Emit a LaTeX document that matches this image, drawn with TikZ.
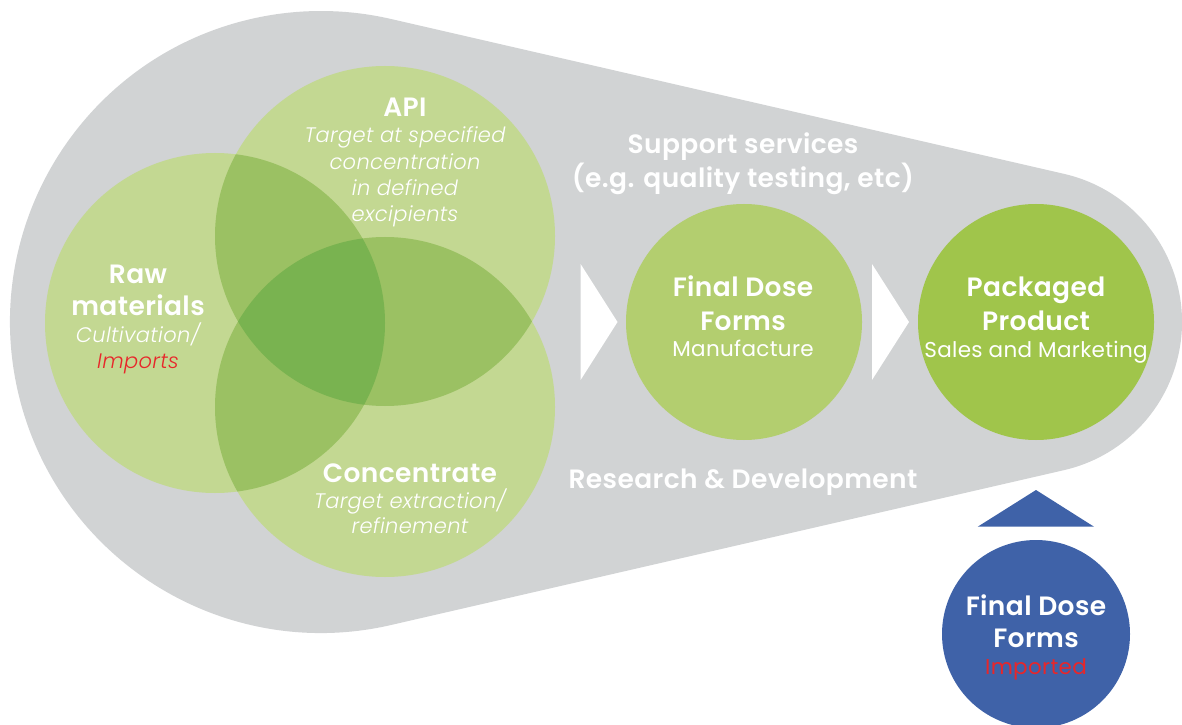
\documentclass[tikz,border=0pt]{standalone}
\usepackage{fontspec}
\setmainfont{Poppins}[ItalicFont={Poppins Light Italic},BoldFont={Poppins SemiBold}]
\usetikzlibrary{calc}

\definecolor{shellgrey}{HTML}{D1D3D4}
\definecolor{vennone}{HTML}{C3D892}
\definecolor{venntwo}{HTML}{9BC163}
\definecolor{vennthree}{HTML}{79B350}
\definecolor{dosegreen}{HTML}{B3CE6F}
\definecolor{packgreen}{HTML}{A0C54B}
\definecolor{importblue}{HTML}{3F62A8}
\definecolor{importred}{HTML}{E8262A}

\begin{document}
\begin{tikzpicture}[x=1pt,y=1pt]

    \tikzset{
      venntitle/.style={
        text=white,
        anchor=base,
        inner sep=0pt,
        font=\fontsize{26.5}{30}\selectfont\bfseries\addfontfeature{LetterSpace=1.5},
      },
      venntext/.style={
        text=white,
        anchor=base,
        inner sep=0pt,
        font=\fontsize{21}{24}\selectfont\itshape\addfontfeature{LetterSpace=1.5},
      },
      dosetext/.style={
        text=white,
        anchor=base,
        inner sep=0pt,
        font=\fontsize{21.5}{24}\selectfont\addfontfeature{LetterSpace=1.5},
      },
    }
    \useasboundingbox (0,0) rectangle (1182,724);
    \clip (0,0) rectangle (1182,724);

    % grey shell
    \coordinate (big) at (321,402);
    \coordinate (small) at (1030,402);
    \fill[shellgrey] ($(big)+(77.05:311)$) -- ($(small)+(77.05:152)$)
      arc[start angle=77.05, end angle=-77.05, radius=152]
      -- ($(big)+(-77.05:311)$)
      arc[start angle=-77.05, end angle=-282.95, radius=311] -- cycle;

    % venn
    \coordinate (raw) at (215,401);
    \coordinate (api) at (385,488);
    \coordinate (conc) at (385,317);
    \fill[vennone] (raw) circle (170) (api) circle (170) (conc) circle (170);
    \begin{scope}
      \clip (raw) circle (170);
      \fill[venntwo] (api) circle (170) (conc) circle (170);
    \end{scope}
    \begin{scope}
      \clip (api) circle (170);
      \fill[venntwo] (conc) circle (170);
    \end{scope}
    \begin{scope}
      \clip (raw) circle (170);
      \clip (api) circle (170);
      \fill[vennthree] (conc) circle (170);
    \end{scope}

	\node[venntitle] (api-title) at (405,607) {API};
	\node[venntext] (api-1) at (405,581) {Target at specified};
	\node[venntext] (api-2) at (405,554) {concentration};
	\node[venntext] (api-3) at (405,528) {in defined};
	\node[venntext] (api-4) at (405,502) {excipients};

	\node[venntitle] (raw-title) at (138,441) {Raw};
	\node[venntitle] (raw-title2) at (138,409) {materials};
	\node[venntext] (raw-1) at (138,382) {Cultivation/};
	\node[venntext, text=importred] (raw-2) at (138,356) {Imports};

	\node[venntitle] (conc-title) at (410,242) {Concentrate};
	\node[venntext] (conc-1) at (410,216) {Target extraction/};
	\node[venntext] (conc-2) at (410,191) {refinement};

    % support texts
	\node[venntitle] (support) at (743,570) {Support services};
	\node[venntitle] (support2) at (743,536) {(e.g. quality testing, etc)};
	\node[venntitle] (research) at (743,236) {Research \& Development};

    % chevrons
    \fill[white] (580.6,460) -- (617.5,402) -- (580.6,344) -- cycle;
    \fill[white] (872,460) -- (909,402) -- (872,344) -- cycle;

    % stages
    \fill[dosegreen] (744,402) circle (118);
    \fill[packgreen] (1036,402) circle (118);
	\node[venntitle] (dose-title) at (743,428) {Final Dose};
	\node[venntitle] (dose-title2) at (743,394) {Forms};
	\node[dosetext] (dose-1) at (743,368) {Manufacture};
	\node[venntitle] (pack-title) at (1036,428) {Packaged};
	\node[venntitle] (pack-title2) at (1036,394) {Product};
	\node[dosetext] (pack-1) at (1036,367) {Sales and Marketing};

    % imported
    \fill[importblue] (1036,234) -- (1094,197.3) -- (977.7,197.3) -- cycle;
    \fill[importblue] (1036,90) circle (94);
	\node[venntitle] (imp-title) at (1036,109) {Final Dose};
	\node[venntitle] (imp-title2) at (1036,77) {Forms};
	\node[dosetext, text=importred] (imp-1) at (1036,50) {Imported};

\end{tikzpicture}
\end{document}
